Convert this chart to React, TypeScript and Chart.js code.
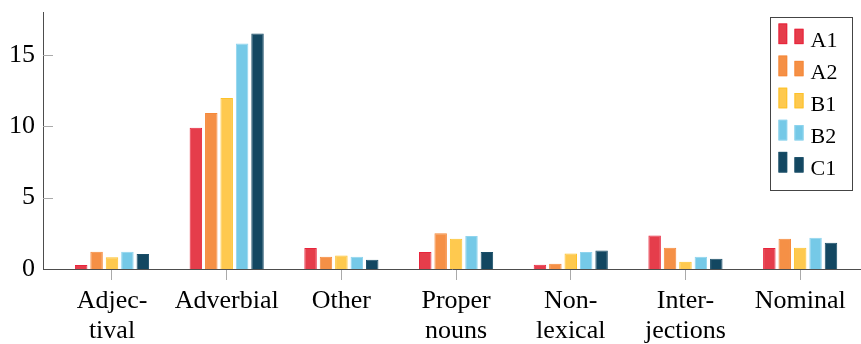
import React, { useEffect, useRef } from 'react';
import { Chart, registerables } from 'chart.js';

Chart.register(...registerables);

const categories: (string | string[])[] = [
  ['Adjec-', 'tival'],
  'Adverbial',
  'Other',
  ['Proper', 'nouns'],
  ['Non-', 'lexical'],
  ['Inter-', 'jections'],
  'Nominal',
];
const seriesNames = ['A1', 'A2', 'B1', 'B2', 'C1'];
const a1 = [0.28, 9.9, 1.47, 1.19, 0.3, 2.35, 1.47];
const a2 = [1.21, 10.93, 0.86, 2.5, 0.37, 1.49, 2.12];
const b1 = [0.82, 11.98, 0.95, 2.12, 1.09, 0.51, 1.49];
const b2 = [1.21, 15.79, 0.86, 2.31, 1.19, 0.86, 2.19];
const c1 = [1.05, 16.49, 0.65, 1.19, 1.3, 0.72, 1.84];
const yTicks = [0, 5, 10, 15];

const fills = ['#E53D4B', '#F59046', '#FEC94F', '#75C9E7', '#134761'];
const borders = ['#E8243C', '#F5893A', '#FDC22A', '#8FD4EE', '#1B4F69'];

const FONT = "'Liberation Serif', serif";

const extrasPlugin = {
  id: 'extras',
  afterDraw(chart: any) {
    const ctx = chart.ctx;
    const area = chart.chartArea;
    const ys = chart.scales.y;
    ctx.save();
    // inner y ticks
    ctx.strokeStyle = '#aaaaaa';
    ctx.lineWidth = 1;
    yTicks.forEach((v) => {
      if (v === 0) return;
      const py = Math.round(ys.getPixelForValue(v)) + 0.5;
      ctx.beginPath();
      ctx.moveTo(area.left, py);
      ctx.lineTo(area.left + 10, py);
      ctx.stroke();
    });
    // legend
    const bw = 82;
    const bh = 173;
    const bx = Math.round(area.right - 9 - bw) + 0.5;
    const by = Math.round(area.top + 5) + 0.5;
    ctx.fillStyle = '#ffffff';
    ctx.fillRect(bx, by, bw, bh);
    ctx.strokeStyle = '#444444';
    ctx.strokeRect(bx, by, bw, bh);
    ctx.font = `22px ${FONT}`;
    ctx.textBaseline = 'alphabetic';
    ctx.textAlign = 'left';
    chart.data.datasets.forEach((ds: any, i: number) => {
      const base = by + 29 + i * 32.1;
      ctx.fillStyle = ds.backgroundColor;
      ctx.strokeStyle = ds.borderColor;
      ctx.fillRect(bx + 8, base - 23, 8.7, 20.6);
      ctx.strokeRect(bx + 8.5, base - 22.5, 7.7, 19.6);
      ctx.fillRect(bx + 24, base - 17.7, 9, 15.3);
      ctx.strokeRect(bx + 24.5, base - 17.2, 8, 14.3);
      ctx.fillStyle = '#000000';
      ctx.fillText(ds.label, bx + 40, base);
    });
    ctx.restore();
  },
};

export default function App() {
  const ref = useRef<HTMLCanvasElement>(null);
  useEffect(() => {
    if (!ref.current) return;
    const series = [a1, a2, b1, b2, c1];
    const chart = new Chart(ref.current, {
      type: 'bar',
      data: {
        datasets: series.map((vals, i) => ({
          label: seriesNames[i],
          data: vals.map((v, j) => ({ x: j, y: v })),
          backgroundColor: fills[i],
          borderColor: borders[i],
          borderWidth: 1,
          categoryPercentage: 0.672,
          barPercentage: 0.81,
        })),
      },
      options: {
        responsive: false,
        animation: false,
        layout: { padding: { top: 12, left: 0, right: 0, bottom: 0 } },
        plugins: { legend: { display: false }, tooltip: { enabled: false } },
        scales: {
          x: {
            type: 'linear',
            offset: false,
            min: -0.6016,
            max: 6.5305,
            afterBuildTicks: (scale: any) => {
              scale.ticks = categories.map((_, i) => ({ value: i }));
            },
            afterFit: (scale: any) => {
              scale.height = 75;
              scale.paddingLeft = 0;
              scale.paddingRight = 0;
            },
            ticks: {
              autoSkip: false,
              maxRotation: 0,
              minRotation: 0,
              padding: 6,
              color: '#000000',
              font: { family: FONT, size: 26, lineHeight: 1.16 },
              callback: (value: any) => categories[Math.round(Number(value))],
            },
            grid: {
              display: true,
              offset: false,
              drawOnChartArea: false,
              drawTicks: true,
              tickLength: 11,
              color: '#aaaaaa',
              lineWidth: 1,
            },
            border: { display: true, color: '#4d4d4d', width: 1 },
          },
          y: {
            type: 'linear',
            min: 0,
            max: 18,
            afterBuildTicks: (scale: any) => {
              scale.ticks = yTicks.map((v) => ({ value: v }));
            },
            afterFit: (scale: any) => {
              scale.width = 43;
              scale.paddingTop = 0;
              scale.paddingBottom = 0;
            },
            ticks: {
              padding: 8,
              color: '#000000',
              font: { family: FONT, size: 26 },
              callback: (value: any) => String(value),
            },
            grid: { display: false, drawTicks: false },
            border: { display: true, color: '#4d4d4d', width: 1 },
          },
        },
      },
      plugins: [extrasPlugin],
    } as any);
    return () => chart.destroy();
  }, []);
  return (
    <div style={{ position: 'absolute', left: 0, top: 0, width: 861, height: 344, background: '#fff' }}>
      <canvas ref={ref} width={861} height={344} style={{ display: 'block' }} />
    </div>
  );
}
